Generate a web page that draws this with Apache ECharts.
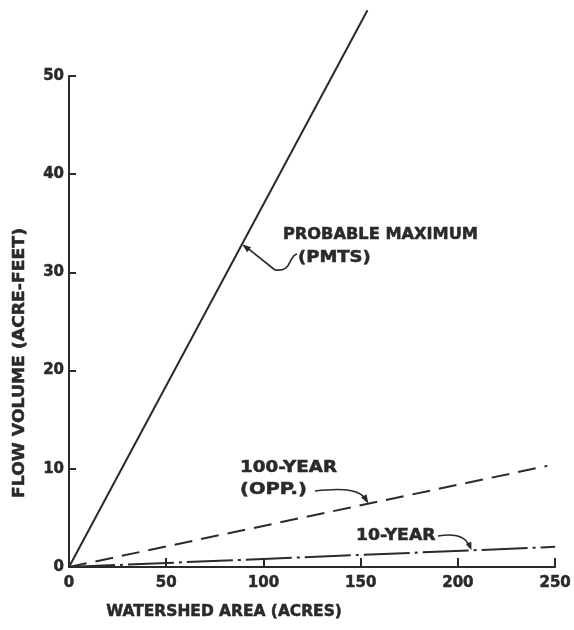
<!DOCTYPE html>
<html>
<head>
<meta charset="utf-8">
<script src="https://cdn.jsdelivr.net/npm/echarts@6/dist/echarts.min.js"></script>
<style>
  html, body { margin: 0; padding: 0; background: #ffffff; }
  #chart { width: 574px; height: 630px; }
</style>
</head>
<body>
<div id="chart"></div>
<script>
// Flow volume vs. watershed area for three design storms
const xTicks = [0, 50, 100, 150, 200, 250];
const yTicks = [0, 10, 20, 30, 40, 50];

const pmtsArea = [0, 153.5];
const pmtsVolume = [0, 56.7];

const hundredYearArea = [0, 246];
const hundredYearVolume = [0, 10.3];

const tenYearArea = [0, 250];
const tenYearVolume = [0, 2.05];

// where each callout arrow touches its line (acres)
const pmtsCalloutAt = 89;
const hundredCalloutAt = 154;
const tenCalloutAt = 207;

const INK = '#2a2a2a';
const FONT = 'DejaVu Sans';

function pairs(xs, ys) { return xs.map((x, i) => [x, ys[i]]); }
function valueOn(xs, ys, x) {
  return ys[0] + (ys[1] - ys[0]) * (x - xs[0]) / (xs[1] - xs[0]);
}

const chart = echarts.init(document.getElementById('chart'), null, { renderer: 'canvas' });

const tickLabel = {
  color: INK, fontFamily: FONT, fontWeight: 'bold', fontSize: 15,
  textBorderColor: INK, textBorderWidth: 0.5
};

const option = {
  backgroundColor: '#ffffff',
  animation: false,
  grid: { left: 69, right: 16, top: 76, bottom: 63, containLabel: false },
  xAxis: {
    type: 'value', min: xTicks[0], max: xTicks[xTicks.length - 1], interval: 50,
    axisLine: { show: true, lineStyle: { color: INK, width: 2 } },
    axisTick: { show: true, inside: true, length: 9, lineStyle: { color: INK, width: 2 } },
    axisLabel: Object.assign({ margin: 9, formatter: v => xTicks.includes(v) ? String(v) : '' }, tickLabel),
    splitLine: { show: false }
  },
  yAxis: {
    type: 'value', min: yTicks[0], max: yTicks[yTicks.length - 1], interval: 10,
    axisLine: { show: true, lineStyle: { color: INK, width: 2 } },
    axisTick: { show: true, inside: true, length: 7, lineStyle: { color: INK, width: 2 } },
    axisLabel: Object.assign({ margin: 5, formatter: v => yTicks.includes(v) ? String(v) : '' }, tickLabel),
    splitLine: { show: false }
  },
  series: [
    {
      name: 'PROBABLE MAXIMUM (PMTS)', type: 'line', clip: false, symbol: 'none',
      data: pairs(pmtsArea, pmtsVolume),
      lineStyle: { color: INK, width: 2 }
    },
    {
      name: '100-YEAR (OPP.)', type: 'line', clip: false, symbol: 'none',
      data: pairs(hundredYearArea, hundredYearVolume),
      lineStyle: { color: INK, width: 2, type: [18, 9] }
    },
    {
      name: '10-YEAR', type: 'line', clip: false, symbol: 'none',
      data: pairs(tenYearArea, tenYearVolume),
      lineStyle: { color: INK, width: 2, type: [46, 5, 3, 5] }
    }
  ]
};
chart.setOption(option);

// callouts: label text plus a curved leader ending in an arrowhead on the line
function arrowHead(tip, from, len, half) {
  const dx = tip[0] - from[0], dy = tip[1] - from[1];
  const d = Math.hypot(dx, dy) || 1;
  const ux = dx / d, uy = dy / d;
  const bx = tip[0] - ux * len, by = tip[1] - uy * len;
  return {
    type: 'polygon',
    shape: { points: [tip, [bx - uy * half, by + ux * half], [bx + uy * half, by - ux * half]] },
    style: { fill: INK }
  };
}
function label(text, x, y, sx, opts) {
  opts = opts || {};
  return {
    type: 'text', x: x, y: y, scaleX: sx || 1, rotation: opts.rotation || 0,
    style: { text: text, fill: INK, font: 'bold 15px "' + FONT + '"',
      stroke: INK, lineWidth: 0.5,
      align: opts.align || 'left', verticalAlign: 'middle' }
  };
}

const px = (x, y) => chart.convertToPixel({ gridIndex: 0 }, [x, y]);

const tipP = px(pmtsCalloutAt, valueOn(pmtsArea, pmtsVolume, pmtsCalloutAt));
const tipH = px(hundredCalloutAt, valueOn(hundredYearArea, hundredYearVolume, hundredCalloutAt));
const tipT = px(tenCalloutAt, valueOn(tenYearArea, tenYearVolume, tenCalloutAt));

const elements = [
  // axis titles
  label('FLOW VOLUME (ACRE-FEET)', 20, 363, 1.15, { rotation: Math.PI / 2, align: 'center' }),
  label('WATERSHED AREA (ACRES)', 224, 612, 1.03, { align: 'center' }),
  // PMTS
  label('PROBABLE MAXIMUM', 283, 235, 1.08),
  label('(PMTS)', 298, 258, 1.2),
  {
    type: 'bezierCurve',
    shape: { x1: 297, y1: 254, cpx1: 288, cpy1: 256, cpx2: 293, cpy2: 272, x2: 275, y2: 270 },
    style: { stroke: INK, lineWidth: 1.6, fill: null }
  },
  { type: 'line', shape: { x1: 275, y1: 270, x2: tipP[0] + 3, y2: tipP[1] + 2 },
    style: { stroke: INK, lineWidth: 1.6 } },
  arrowHead(tipP, [275, 270], 9, 3.2),
  // 100-year
  label('100-YEAR', 240, 468, 1.22),
  label('(OPP.)', 240, 490, 1.3),
  {
    type: 'bezierCurve',
    shape: { x1: 315, y1: 491, cpx1: 348, cpy1: 487, cpx2: 362, cpy2: 491, x2: tipH[0] - 2, y2: tipH[1] - 3 },
    style: { stroke: INK, lineWidth: 1.6, fill: null }
  },
  arrowHead(tipH, [362, 493], 9, 3.2),
  // 10-year
  label('10-YEAR', 356, 536, 1.15),
  {
    type: 'bezierCurve',
    shape: { x1: 438, y1: 536, cpx1: 457, cpy1: 533, cpx2: 467, cpy2: 538, x2: tipT[0] - 2, y2: tipT[1] - 3 },
    style: { stroke: INK, lineWidth: 1.6, fill: null }
  },
  arrowHead(tipT, [467, 539], 8, 3)
];

chart.setOption({ graphic: { elements: elements } });
</script>
</body>
</html>
